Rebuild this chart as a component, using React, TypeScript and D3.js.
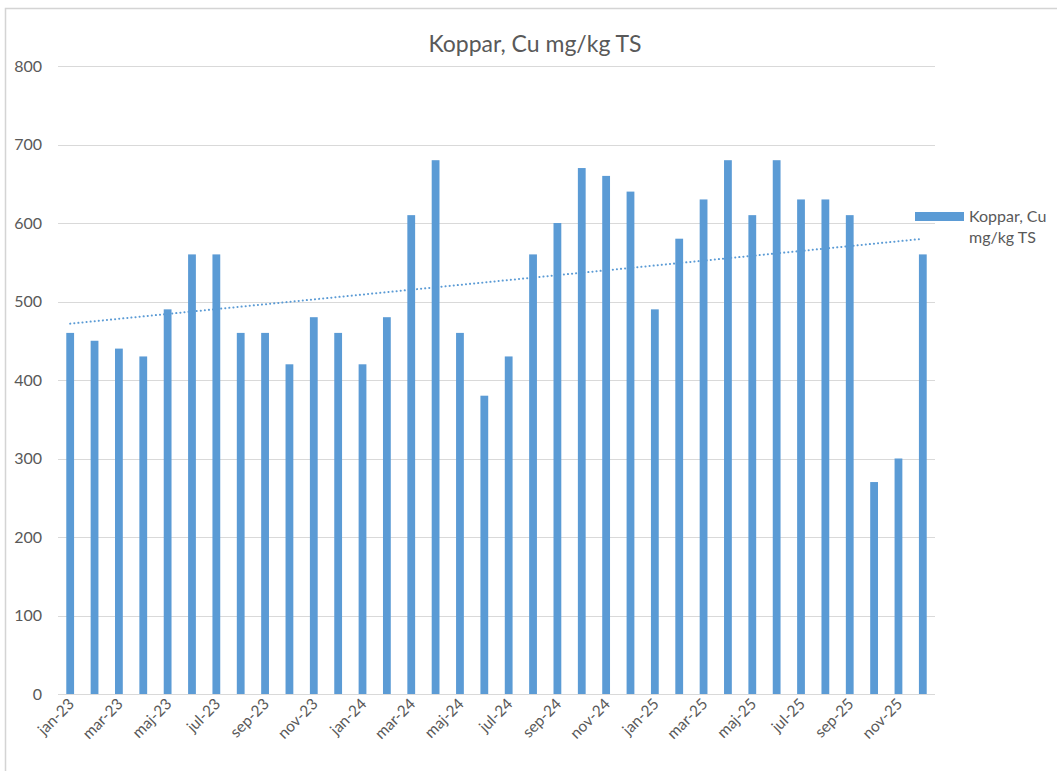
import * as d3 from "d3";
import { useEffect, useRef } from "react";

const months = ["jan", "feb", "mar", "apr", "maj", "jun", "jul", "aug", "sep", "okt", "nov", "dec"];
const years = ["23", "24", "25"];
const categories = years.flatMap((y) => months.map((m) => `${m}-${y}`));
const values = [
  460, 450, 440, 430, 490, 560, 560, 460, 460, 420, 480, 460,
  420, 480, 610, 680, 460, 380, 430, 560, 600, 670, 660, 640,
  490, 580, 630, 680, 610, 680, 630, 630, 610, 270, 300, 560,
];
const yTicks = [0, 100, 200, 300, 400, 500, 600, 700, 800];

const W = 1057;
const H = 771;
const font = "Lato, 'Open Sans', sans-serif";
const blue = "#5B9BD5";
const textColor = "#595959";

export default function App() {
  const svgRef = useRef<SVGSVGElement | null>(null);

  useEffect(() => {
    if (!svgRef.current) return;
    const svg = d3.select(svgRef.current);
    svg.selectAll("*").remove();

    const left = 58, right = 935, top = 66, bottom = 694;

    const x = d3.scaleBand().domain(categories).range([left, right]).paddingInner(0.68).paddingOuter(0.34);
    const y = d3.scaleLinear().domain([0, 800]).range([bottom, top]);

    // chart border (right and bottom edges run past the frame)
    svg.append("rect")
      .attr("x", 5.5).attr("y", 8.5)
      .attr("width", W + 20).attr("height", H)
      .attr("fill", "#fff").attr("stroke", "#d4d4d4").attr("stroke-width", 1.5);

    // title
    svg.append("text")
      .attr("x", 535).attr("y", 52)
      .attr("text-anchor", "middle")
      .attr("font-family", font).attr("font-size", 23)
      .attr("fill", textColor)
      .text("Koppar, Cu mg/kg TS");

    // grid
    svg.append("g").selectAll("line")
      .data(yTicks)
      .enter().append("line")
      .attr("x1", left).attr("x2", right)
      .attr("y1", (d) => Math.round(y(d)) + 0.5)
      .attr("y2", (d) => Math.round(y(d)) + 0.5)
      .attr("stroke", "#d9d9d9").attr("stroke-width", 1);

    // y labels
    svg.append("g").selectAll("text")
      .data(yTicks)
      .enter().append("text")
      .attr("x", 42).attr("y", (d) => y(d) + 5.5)
      .attr("text-anchor", "end")
      .attr("font-family", font).attr("font-size", 16)
      .attr("fill", textColor)
      .text((d) => d);

    // bars
    svg.append("g").selectAll("rect")
      .data(values)
      .enter().append("rect")
      .attr("x", (_, i) => x(categories[i])!)
      .attr("y", (d) => y(d))
      .attr("width", x.bandwidth())
      .attr("height", (d) => y(0) - y(d))
      .attr("fill", blue);

    // x labels, every other month
    svg.append("g").selectAll("text")
      .data(categories.filter((_, i) => i % 2 === 0))
      .enter().append("text")
      .attr("transform", (d) => {
        const cx = x(d)! + x.bandwidth() / 2;
        return `translate(${cx + 5},${bottom + 11}) rotate(-45)`;
      })
      .attr("text-anchor", "end")
      .attr("font-family", font).attr("font-size", 15.5)
      .attr("fill", textColor)
      .text((d) => d);

    // linear trendline
    const idx = values.map((_, i) => i);
    const mx = d3.mean(idx)!;
    const my = d3.mean(values)!;
    const slope = d3.sum(idx, (i) => (i - mx) * (values[i] - my)) / d3.sum(idx, (i) => (i - mx) ** 2);
    const b = my - slope * mx;
    const cxOf = (i: number) => x(categories[i])! + x.bandwidth() / 2;
    const n = values.length - 1;
    svg.append("line")
      .attr("x1", cxOf(0)).attr("y1", y(b))
      .attr("x2", cxOf(n)).attr("y2", y(b + slope * n))
      .attr("stroke", blue).attr("stroke-width", 2)
      .attr("stroke-dasharray", "0.1 4")
      .attr("stroke-linecap", "round");

    // legend
    svg.append("rect")
      .attr("x", 915).attr("y", 212)
      .attr("width", 49).attr("height", 9)
      .attr("fill", blue);
    svg.append("text")
      .attr("font-family", font).attr("font-size", 16)
      .attr("fill", textColor)
      .selectAll("tspan")
      .data(["Koppar, Cu", "mg/kg TS"])
      .enter().append("tspan")
      .attr("x", 969).attr("y", (_, i) => 222 + i * 21)
      .text((d) => d);
  }, []);

  return (
    <svg
      ref={svgRef}
      width={W}
      height={H}
      style={{ display: "block", position: "absolute", left: 0, top: 0 }}
    />
  );
}
